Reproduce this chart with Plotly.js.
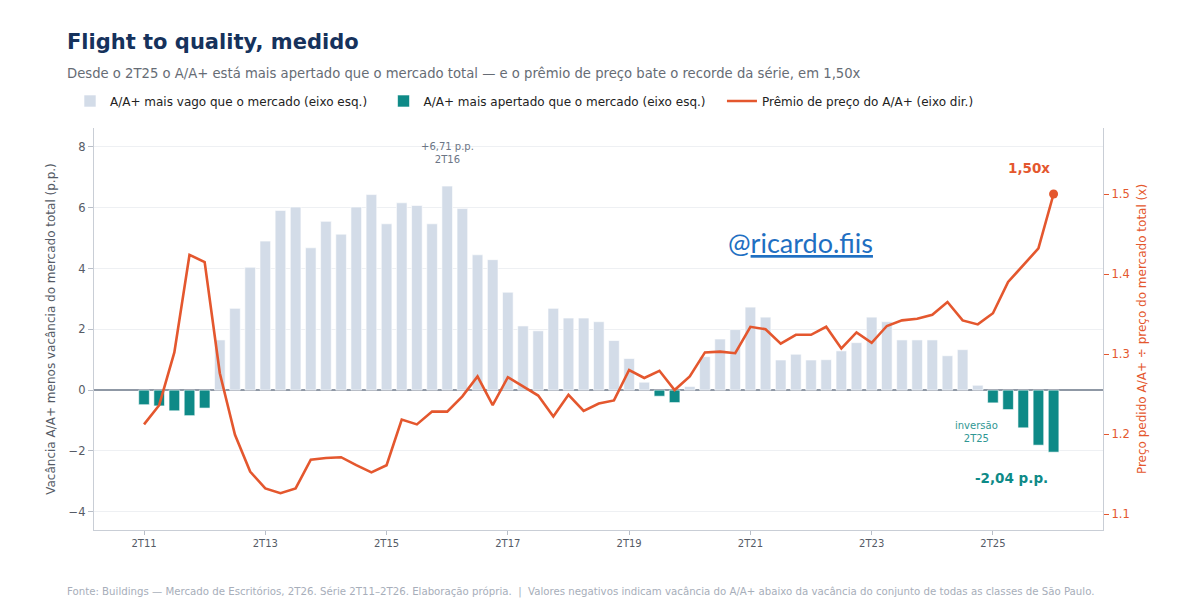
<!DOCTYPE html>
<html>
<head>
<meta charset="utf-8">
<script src="https://cdn.plot.ly/plotly-3.0.1.min.js"></script>
<style>
  html, body { margin: 0; padding: 0; background: #ffffff; }
  #chart { width: 1183px; height: 615px; }
</style>
</head>
<body>
<div id="chart"></div>
<script>
// Quarter labels (2T11 ... 2T26)
var quarters = [
  '2T11','3T11','4T11',
  '1T12','2T12','3T12','4T12',
  '1T13','2T13','3T13','4T13',
  '1T14','2T14','3T14','4T14',
  '1T15','2T15','3T15','4T15',
  '1T16','2T16','3T16','4T16',
  '1T17','2T17','3T17','4T17',
  '1T18','2T18','3T18','4T18',
  '1T19','2T19','3T19','4T19',
  '1T20','2T20','3T20','4T20',
  '1T21','2T21','3T21','4T21',
  '1T22','2T22','3T22','4T22',
  '1T23','2T23','3T23','4T23',
  '1T24','2T24','3T24','4T24',
  '1T25','2T25','3T25','4T25',
  '1T26','2T26'
];

// A/A+ vacancy minus total market vacancy (p.p.)
var vacancyGap = [
  -0.48, -0.52, -0.68,
  -0.84, -0.59, 1.65, 2.69,
  4.04, 4.90, 5.91, 6.02,
  4.68, 5.55, 5.13, 6.02,
  6.43, 5.47, 6.16, 6.07,
  5.47, 6.71, 5.97, 4.45,
  4.29, 3.22, 2.11, 1.95,
  2.69, 2.37, 2.37, 2.25,
  1.63, 1.04, 0.26, -0.20,
  -0.41, 0.12, 1.10, 1.68,
  1.99, 2.73, 2.40, 0.99,
  1.18, 0.99, 1.00, 1.29,
  1.56, 2.40, 2.25, 1.65,
  1.65, 1.65, 1.13, 1.33,
  0.16, -0.42, -0.64, -1.24,
  -1.81, -2.04
];

// Asking price A/A+ / total market asking price (x)
var pricePremium = [
  1.212, 1.236, 1.302,
  1.424, 1.415, 1.276, 1.199,
  1.153, 1.132, 1.126, 1.132,
  1.168, 1.170, 1.171, 1.161,
  1.152, 1.161, 1.218, 1.212,
  1.228, 1.228, 1.247, 1.272,
  1.236, 1.271, 1.259, 1.248,
  1.222, 1.249, 1.229, 1.238,
  1.242, 1.280, 1.270, 1.279,
  1.255, 1.272, 1.302, 1.303,
  1.301, 1.334, 1.331, 1.313,
  1.324, 1.324, 1.334, 1.307,
  1.327, 1.314, 1.335, 1.342,
  1.344, 1.349, 1.365, 1.342,
  1.337, 1.351, 1.390, 1.411,
  1.432, 1.500
];

var xTickLabels = ['2T11','2T13','2T15','2T17','2T19','2T21','2T23','2T25'];
var leftTicks = [-4, -2, 0, 2, 4, 6, 8];
var rightTicks = [1.1, 1.2, 1.3, 1.4, 1.5];

var C_LIGHT = '#d3dce8';
var C_TEAL = '#0e8a87';
var C_ORANGE = '#e4572e';
var NB = '\u00a0\u00a0\u00a0';

var positive = vacancyGap.map(function (v) { return v >= 0 ? v : null; });
var negative = vacancyGap.map(function (v) { return v < 0 ? v : null; });

var n = quarters.length;
var lastQ = quarters[n - 1];
var lastP = pricePremium[n - 1];
var lastV = vacancyGap[n - 1];
var peakIdx = 0;
vacancyGap.forEach(function (v, i) { if (v > vacancyGap[peakIdx]) peakIdx = i; });

function br(v) { return v.toFixed(2).replace('.', ','); }

var traces = [
  {
    type: 'bar', x: quarters, y: positive, yaxis: 'y',
    name: 'A/A+ mais vago que o mercado (eixo esq.)' + NB,
    marker: { color: C_LIGHT, line: { color: '#ffffff', width: 0.6 } },
    width: 0.7, hoverinfo: 'skip'
  },
  {
    type: 'bar', x: quarters, y: negative, yaxis: 'y',
    name: 'A/A+ mais apertado que o mercado (eixo esq.)' + NB,
    marker: { color: C_TEAL, line: { color: '#ffffff', width: 0.6 } },
    width: 0.7, hoverinfo: 'skip'
  },
  {
    type: 'scatter', mode: 'lines', x: quarters, y: pricePremium, yaxis: 'y2',
    name: 'Prêmio de preço do A/A+ (eixo dir.)',
    line: { color: C_ORANGE, width: 2.6 },
    hoverinfo: 'skip'
  },
  {
    type: 'scatter', mode: 'markers', x: [lastQ], y: [lastP], yaxis: 'y2',
    showlegend: false,
    marker: { color: C_ORANGE, size: 9 },
    hoverinfo: 'skip'
  }
];

var FONT = 'DejaVu Sans, Verdana, sans-serif';

var layout = {
  width: 1183, height: 615,
  paper_bgcolor: '#ffffff', plot_bgcolor: '#ffffff',
  margin: { l: 94, r: 80, t: 128, b: 85 },
  font: { family: FONT, color: '#555b66' },
  barmode: 'relative',
  showlegend: true,
  title: {
    text: '<b>Flight to quality, medido</b>',
    font: { family: FONT, size: 21, color: '#16325c' },
    xref: 'container', x: 67 / 1183, xanchor: 'left',
    yref: 'container', y: 1 - 42 / 615, yanchor: 'middle'
  },
  legend: {
    orientation: 'h',
    x: (70 - 94) / 1009, xanchor: 'left',
    y: (530 - 101) / 402, yanchor: 'middle',
    font: { family: FONT, size: 12, color: '#222222' },
    bgcolor: 'rgba(0,0,0,0)', borderwidth: 0,
    traceorder: 'normal'
  },
  xaxis: {
    type: 'category',
    range: [-3.3, 63.26],
    tickmode: 'array', tickvals: xTickLabels, ticktext: xTickLabels,
    ticks: 'outside', ticklen: 4, tickcolor: '#b8bec8',
    tickfont: { family: FONT, size: 10, color: '#555b66' },
    showline: true, linecolor: '#c9ced6', linewidth: 1.2,
    showgrid: false, zeroline: false, fixedrange: true
  },
  yaxis: {
    range: [-4.6, 8.62],
    tickmode: 'array', tickvals: leftTicks,
    ticks: 'outside', ticklen: 5, tickcolor: '#b8bec8',
    tickfont: { family: FONT, size: 11.5, color: '#555b66' },
    showline: true, linecolor: '#c9ced6', linewidth: 1.2,
    showgrid: true, gridcolor: '#eef0f3', gridwidth: 1,
    zeroline: true, zerolinecolor: '#8f98a5', zerolinewidth: 1.3,
    title: {
      text: 'Vacância A/A+ menos vacância do mercado total (p.p.)',
      font: { family: FONT, size: 12, color: '#555b66' },
      standoff: 10
    },
    fixedrange: true
  },
  yaxis2: {
    overlaying: 'y', side: 'right',
    range: [1.080, 1.5825],
    tickmode: 'array', tickvals: rightTicks,
    tickformat: '.1f',
    ticks: 'outside', ticklen: 5, tickcolor: C_ORANGE,
    tickfont: { family: FONT, size: 11.5, color: C_ORANGE },
    showline: true, linecolor: '#c9ced6', linewidth: 1.2,
    showgrid: false, zeroline: false,
    title: {
      text: 'Preço pedido A/A+ ÷ preço do mercado total (x)',
      font: { family: FONT, size: 12, color: C_ORANGE },
      standoff: 8
    },
    fixedrange: true
  },
  annotations: [
    {
      text: 'Desde o 2T25 o A/A+ está mais apertado que o mercado total — e o prêmio de preço bate o recorde da série, em 1,50x',
      xref: 'paper', yref: 'paper',
      x: (65 - 94) / 1009, xanchor: 'left',
      y: (530 - 73) / 402, yanchor: 'middle',
      showarrow: false,
      font: { family: FONT, size: 13.2, color: '#666c75' }
    },
    {
      text: 'Fonte: Buildings — Mercado de Escritórios, 2T26. Série 2T11–2T26. Elaboração própria.  |  Valores negativos indicam vacância do A/A+ abaixo da vacância do conjunto de todas as classes de São Paulo.',
      xref: 'paper', yref: 'paper',
      x: (65 - 94) / 1009, xanchor: 'left',
      y: (530 - 592) / 402, yanchor: 'middle',
      showarrow: false,
      font: { family: FONT, size: 10.2, color: '#a7aeba' }
    },
    {
      text: '+' + br(vacancyGap[peakIdx]) + ' p.p.<br>' + quarters[peakIdx],
      xref: 'x', yref: 'y',
      x: quarters[peakIdx], y: vacancyGap[peakIdx],
      xanchor: 'center', yanchor: 'bottom', yshift: 19,
      showarrow: false,
      font: { family: FONT, size: 10, color: '#6b7585' }
    },
    {
      text: '<b>' + br(lastP) + 'x</b>',
      xref: 'x', yref: 'y2',
      x: lastQ, y: lastP,
      xanchor: 'center', yanchor: 'middle', xshift: -25, yshift: 26,
      showarrow: false,
      font: { family: FONT, size: 13.5, color: C_ORANGE }
    },
    {
      text: '<b>' + br(lastV) + ' p.p.</b>',
      xref: 'x', yref: 'y',
      x: lastQ, y: lastV,
      xanchor: 'center', yanchor: 'middle', xshift: -42, yshift: -26,
      showarrow: false,
      font: { family: FONT, size: 13.5, color: C_TEAL }
    },
    {
      text: 'inversão<br>2T25',
      xref: 'x', yref: 'y',
      x: '2T25', y: -1.37,
      xanchor: 'center', yanchor: 'middle', xshift: -16,
      showarrow: false,
      font: { family: FONT, size: 10, color: '#2f9793' }
    },
    {
      text: '@<span style="text-decoration:underline">ricardo.fiis</span>',
      xref: 'paper', yref: 'paper',
      x: (800 - 94) / 1009, y: (530 - 242) / 402,
      xanchor: 'center', yanchor: 'middle',
      showarrow: false,
      font: { family: 'Lato, Open Sans, sans-serif', size: 27, color: '#1f6fc2' }
    }
  ]
};

Plotly.newPlot('chart', traces, layout, { displayModeBar: false, staticPlot: true });
</script>
</body>
</html>
